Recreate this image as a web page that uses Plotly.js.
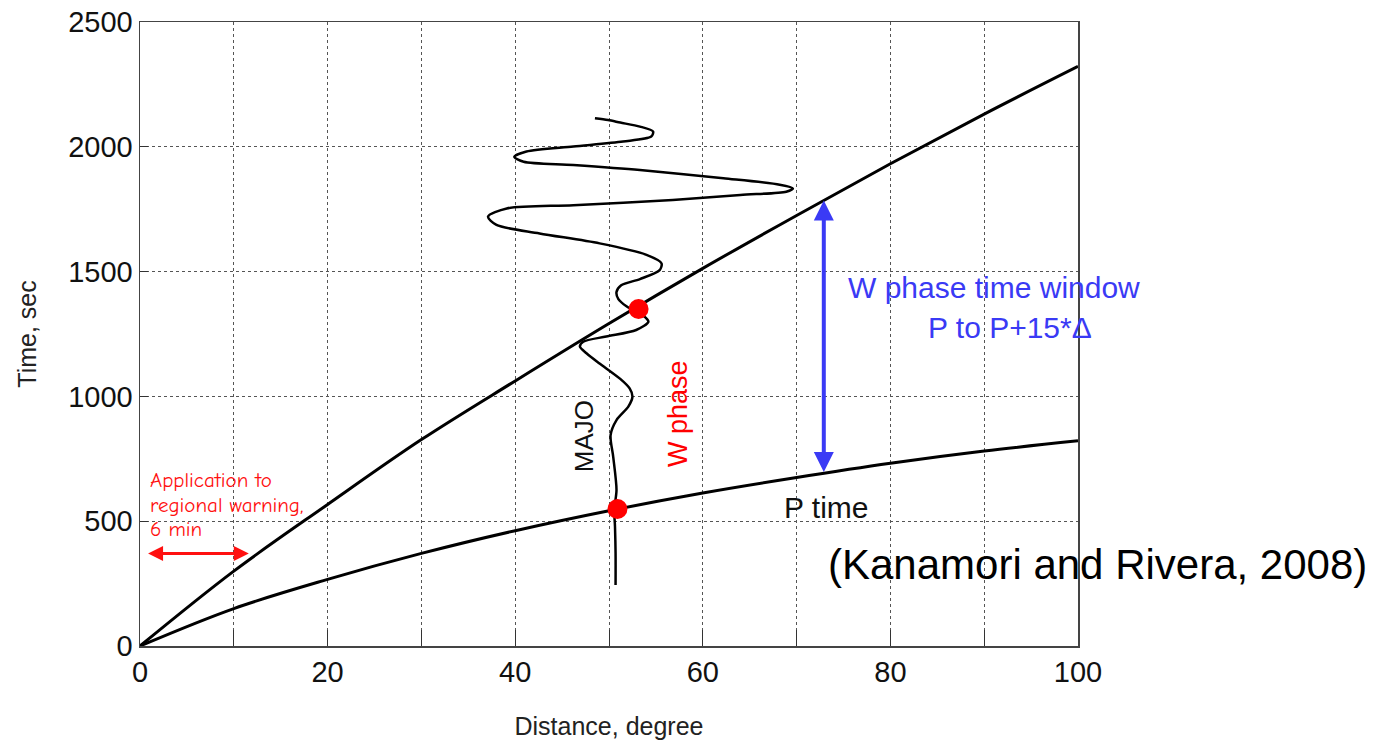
<!DOCTYPE html>
<html>
<head>
<meta charset="utf-8">
<script src="https://cdn.plot.ly/plotly-3.0.1.min.js"></script>
<style>html,body{margin:0;padding:0;background:#fff;}#chart{width:1379px;height:744px;}</style>
</head>
<body>
<div id="chart"></div>
<script>
// Distances (degrees) at which the travel-time curves were read
const distance = [0, 10, 20, 30, 40, 50, 60, 70, 80, 90, 100];
// P-wave travel time (s)
const pTime = [0, 150, 267, 371, 462, 542, 613, 675, 732, 781, 822];
// End of the W phase window, P + 15*Delta (s)
const wEnd = [0, 300, 567, 827, 1062, 1292, 1513, 1725, 1932, 2131, 2322];

// MAJO record drawn along the time axis (distance offset, time)
const majoDist = [50.7, 50.7, 50.64, 50.56, 50.8, 50.45, 50.17, 50.8, 52.06, 52.5, 52.2, 51.2, 48.95, 47.6, 46.9, 47.25, 49.7, 52.9, 54.2, 53.7, 51.9, 51.0, 50.8, 51.3, 53.3, 55.4, 55.6, 54.0, 49.0, 42.6, 38.0, 37.1, 39.1, 46.2, 56.8, 64.0, 68.9, 69.6, 68.2, 62.2, 53.3, 46.2, 40.9, 39.9, 41.2, 46.2, 51.5, 54.5, 54.7, 53.3, 51.2, 49.9, 48.5];
const majoTime = [244, 372, 478, 545, 625, 758, 845, 905, 959, 999, 1032, 1070, 1133, 1173, 1199, 1219, 1240, 1266, 1299, 1322, 1360, 1390, 1418, 1445, 1470, 1506, 1533, 1567, 1613, 1653, 1687, 1720, 1753, 1766, 1787, 1807, 1820, 1833, 1848, 1874, 1907, 1927, 1940, 1960, 1981, 2001, 2021, 2041, 2061, 2081, 2097, 2107, 2114];

// Highlighted W phase start / P arrival points on MAJO
const dotDist = [50.9, 53.15];
const dotTime = [549, 1350];

// Arrows
const warnArrow = {x0: 0.7, x1: 11.6, t: 371};
const windowArrow = {x: 72.9, t0: 691, t1: 1785};

// Tick labels
const xTickVals = [0, 10, 20, 30, 40, 50, 60, 70, 80, 90, 100];
const xTickText = ['0', '', '20', '', '40', '', '60', '', '80', '', '100'];
const yTickVals = [0, 500, 1000, 1500, 2000, 2500];

const FONT = 'Liberation Sans, Arial, Helvetica, sans-serif';
const COMIC = 'Comic Sans MS, Comic Neue, DejaVu Sans, sans-serif';

const traces = [
  {x: distance, y: wEnd, mode: 'lines', line: {color: '#000', width: 3, shape: 'spline'}, showlegend: false, hoverinfo: 'skip'},
  {x: distance, y: pTime, mode: 'lines', line: {color: '#000', width: 3, shape: 'spline'}, showlegend: false, hoverinfo: 'skip'},
  {x: majoDist, y: majoTime, mode: 'lines', line: {color: '#000', width: 2.5, shape: 'spline', smoothing: 0.8}, showlegend: false, hoverinfo: 'skip'},
  {x: dotDist, y: dotTime, mode: 'markers', marker: {color: '#ff0000', size: 20}, showlegend: false, hoverinfo: 'skip'}
];

const annotations = [
  {x: warnArrow.x1, y: warnArrow.t, ax: warnArrow.x0, ay: warnArrow.t, xref: 'x', yref: 'y', axref: 'x', ayref: 'y',
   text: '', showarrow: true, arrowhead: 2, arrowside: 'end+start', arrowsize: 1, arrowwidth: 3, arrowcolor: '#ff1010'},
  {x: windowArrow.x, y: windowArrow.t1, ax: windowArrow.x, ay: windowArrow.t0, xref: 'x', yref: 'y', axref: 'x', ayref: 'y',
   text: '', showarrow: true, arrowhead: 2, arrowside: 'end+start', arrowsize: 1, arrowwidth: 4, arrowcolor: '#3a3af5'},
  {x: 0.9, y: 667, xref: 'x', yref: 'y', text: 'Application to', showarrow: false, xanchor: 'left', yanchor: 'middle',
   font: {family: COMIC, size: 21, color: '#ff1010'}},
  {x: 0.9, y: 563, xref: 'x', yref: 'y', text: 'regional warning,', showarrow: false, xanchor: 'left', yanchor: 'middle',
   font: {family: COMIC, size: 21, color: '#ff1010'}},
  {x: 0.9, y: 467, xref: 'x', yref: 'y', text: '6 min', showarrow: false, xanchor: 'left', yanchor: 'middle',
   font: {family: COMIC, size: 21, color: '#ff1010'}},
  {x: 91.0, y: 1435, xref: 'x', yref: 'y', text: 'W phase time window', showarrow: false, xanchor: 'center', yanchor: 'middle',
   font: {family: FONT, size: 30, color: '#3a3af5'}},
  {x: 92.8, y: 1275, xref: 'x', yref: 'y', text: 'P to P+15*Δ', showarrow: false, xanchor: 'center', yanchor: 'middle',
   font: {family: FONT, size: 30, color: '#3a3af5'}},
  {x: 73.1, y: 555, xref: 'x', yref: 'y', text: 'P time', showarrow: false, xanchor: 'center', yanchor: 'middle',
   font: {family: FONT, size: 30, color: '#111'}},
  {x: 1.0213, y: 0.131, xref: 'paper', yref: 'paper', text: '(Kanamori and Rivera, 2008)', showarrow: false, xanchor: 'center', yanchor: 'middle',
   font: {family: FONT, size: 42, color: '#000'}},
  {x: 47.3, y: 839, xref: 'x', yref: 'y', text: 'MAJO', showarrow: false, textangle: -90, xanchor: 'center', yanchor: 'middle',
   font: {family: FONT, size: 26, color: '#111'}},
  {x: 57.3, y: 931, xref: 'x', yref: 'y', text: 'W phase', showarrow: false, textangle: -90, xanchor: 'center', yanchor: 'middle',
   font: {family: FONT, size: 27, color: '#ff0000'}}
];

const layout = {
  width: 1379, height: 744,
  margin: {l: 140, r: 301, t: 22, b: 98},
  paper_bgcolor: '#ffffff', plot_bgcolor: '#ffffff',
  font: {family: FONT, color: '#111'},
  xaxis: {
    range: [0, 100], tickmode: 'array', tickvals: xTickVals, ticktext: xTickText,
    ticks: 'inside', ticklen: 16, tickcolor: '#333', tickwidth: 1,
    showline: true, linecolor: '#444', linewidth: 1.5, mirror: true,
    showgrid: true, gridcolor: '#555', griddash: 'dot', gridwidth: 1,
    zeroline: false, tickfont: {family: FONT, size: 29, color: '#111'},
    title: {text: 'Distance, degree', font: {family: FONT, size: 25, color: '#222'}, standoff: 30}
  },
  yaxis: {
    range: [0, 2500], tickmode: 'array', tickvals: yTickVals,
    ticks: 'inside', ticklen: 8, tickcolor: '#333', tickwidth: 1,
    showline: true, linecolor: '#444', linewidth: 1.5, mirror: true,
    showgrid: true, gridcolor: '#555', griddash: 'dot', gridwidth: 1,
    zeroline: false, tickfont: {family: FONT, size: 29, color: '#111'},
    title: {text: 'Time, sec', font: {family: FONT, size: 25, color: '#222'}, standoff: 24}
  },
  annotations: annotations
};

Plotly.newPlot('chart', traces, layout, {displayModeBar: false, staticPlot: true});
</script>
</body>
</html>
